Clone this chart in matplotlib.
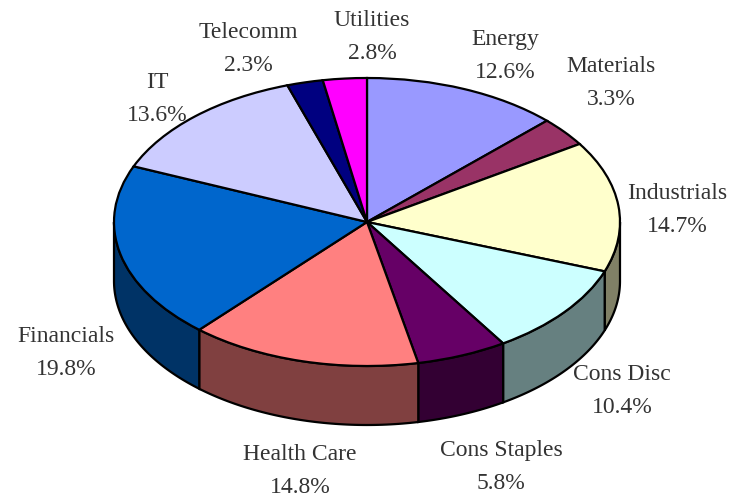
import numpy as np
import matplotlib
matplotlib.use('Agg')
from matplotlib import pyplot as plt
from matplotlib.colors import to_rgb

sectors = ['Energy', 'Materials', 'Industrials', 'Cons Disc', 'Cons Staples',
           'Health Care', 'Financials', 'IT', 'Telecomm', 'Utilities']
weights = [12.6, 3.3, 14.7, 10.4, 5.8, 14.8, 19.8, 13.6, 2.3, 2.8]
colors = ['#9999FF', '#993366', '#FFFFCC', '#CCFFFF', '#660066',
          '#FF8080', '#0066CC', '#CCCCFF', '#000080', '#FF00FF']
label_pos = [(505, 56), (611, 83), (677, 210), (622, 391), (501, 467),
             (300, 471), (66, 353), (157, 99), (248, 49), (372, 37)]

# pixel layout of the tilted pie
W, H = 733, 498
cx, cy, rx, ry = 367, 222, 253, 144
depth = 59 / ry

plt.rcParams['font.family'] = ['Liberation Serif', 'DejaVu Sans']
fig = plt.figure(figsize=(W / 100, H / 100), dpi=100)
ax = fig.add_axes([0, 0, 1, 1])

total = sum(weights)
edges = np.cumsum([0] + weights) / total

# side wall first, only the front half of the rim shows
for i, c in enumerate(colors):
    a0 = max(edges[i], 0.25)
    a1 = min(edges[i + 1], 0.75)
    if a1 <= a0:
        continue
    t = np.linspace(a0, a1, 60) * 2 * np.pi
    x = np.sin(t)
    y = np.cos(t)
    dark = tuple(v * 0.5 for v in to_rgb(c))
    ax.fill(np.r_[x, x[::-1]], np.r_[y, y[::-1] - depth],
            facecolor=dark, edgecolor='black', linewidth=1.6, zorder=1)

wedges, _ = ax.pie(weights, colors=colors, startangle=90, counterclock=False,
                   radius=1, wedgeprops=dict(edgecolor='black', linewidth=1.6, zorder=2))

ax.set_aspect('auto')
ax.set_xlim((0 - cx) / rx, (W - cx) / rx)
ax.set_ylim((cy - H) / ry, cy / ry)
ax.axis('off')

for name, w, (px, py) in zip(sectors, weights, label_pos):
    ax.text((px - cx) / rx, (cy - py) / ry, '%s\n%.1f%%' % (name, w),
            ha='center', va='center', fontsize=17, linespacing=1.8, color='#333333', zorder=3)

fig.savefig('out.png', dpi=100)
